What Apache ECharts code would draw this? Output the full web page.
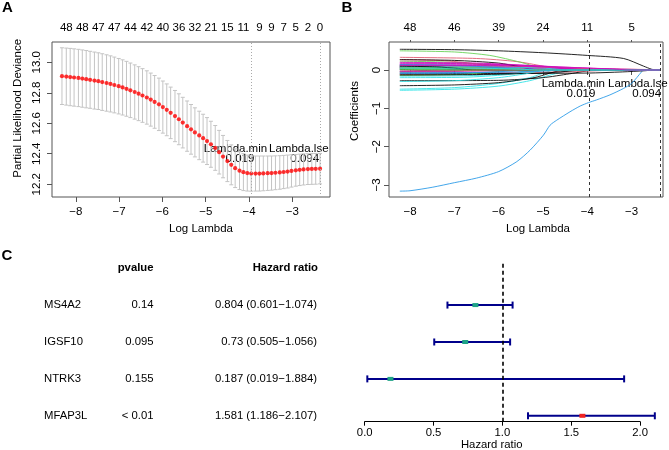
<!DOCTYPE html>
<html>
<head>
<meta charset="utf-8">
<script src="https://cdn.jsdelivr.net/npm/echarts@6/dist/echarts.min.js"></script>
<style>
html, body { margin: 0; padding: 0; background: #fff; }
#chart { width: 669px; height: 450px; }
</style>
</head>
<body>
<div id="chart"></div>
<script>
// ---- panel A: cross-validated partial likelihood deviance ----
var logLambda = [-8.32,-8.22,-8.13,-8.04,-7.94,-7.85,-7.76,-7.67,-7.57,-7.48,-7.39,-7.29,-7.20,-7.11,-7.01,-6.92,
    -6.83,-6.74,-6.64,-6.55,-6.46,-6.36,-6.27,-6.18,-6.08,-5.99,-5.90,-5.81,-5.71,-5.62,-5.53,-5.43,-5.34,-5.25,
    -5.15,-5.06,-4.97,-4.88,-4.78,-4.69,-4.60,-4.50,-4.41,-4.32,-4.22,-4.13,-4.04,-3.95,-3.85,-3.76,-3.67,-3.57,
    -3.48,-3.39,-3.29,-3.20,-3.11,-3.02,-2.92,-2.83,-2.74,-2.64,-2.55,-2.46,-2.36];
var cvMean = [12.909,12.906,12.903,12.900,12.897,12.893,12.889,12.885,12.880,12.876,12.870,12.864,12.858,12.851,
    12.843,12.835,12.826,12.816,12.805,12.794,12.782,12.769,12.755,12.740,12.724,12.706,12.688,12.668,12.647,12.626,
    12.604,12.581,12.560,12.540,12.520,12.502,12.483,12.462,12.438,12.410,12.381,12.352,12.327,12.305,12.289,12.279,
    12.273,12.270,12.270,12.270,12.271,12.272,12.273,12.275,12.277,12.280,12.283,12.287,12.291,12.294,12.297,12.299,
    12.300,12.301,12.302];
var cvUp = [13.095,13.093,13.091,13.088,13.085,13.081,13.077,13.072,13.067,13.062,13.056,13.049,13.042,13.034,
    13.025,13.016,13.006,12.995,12.983,12.971,12.958,12.944,12.929,12.913,12.896,12.877,12.858,12.837,12.815,12.793,
    12.770,12.746,12.723,12.701,12.679,12.659,12.637,12.613,12.585,12.553,12.520,12.487,12.458,12.432,12.413,12.400,
    12.391,12.386,12.385,12.385,12.385,12.385,12.385,12.386,12.387,12.389,12.391,12.393,12.395,12.397,12.399,12.400,
    12.401,12.402,12.402];
var cvLo = [12.723,12.719,12.715,12.712,12.709,12.705,12.701,12.698,12.693,12.690,12.684,12.679,12.674,12.668,
    12.661,12.654,12.646,12.637,12.627,12.617,12.606,12.594,12.581,12.567,12.552,12.535,12.518,12.499,12.479,12.459,
    12.438,12.416,12.397,12.379,12.361,12.345,12.329,12.311,12.291,12.267,12.242,12.217,12.196,12.178,12.165,12.158,
    12.155,12.154,12.155,12.155,12.157,12.159,12.161,12.164,12.167,12.171,12.175,12.181,12.187,12.191,12.195,12.198,
    12.199,12.200,12.202];
var topPosA = [-8.22,-7.85,-7.48,-7.11,-6.74,-6.36,-5.99,-5.62,-5.25,-4.88,-4.50,-4.13,-3.76,-3.48,-3.20,-2.92,-2.64,-2.36];
var topNzA = ['48','48','47','47','44','42','40','36','32','21','15','11','9','9','7','5','2','0'];
var xTicks = [-8, -7, -6, -5, -4, -3];
var yTicksA = [12.2, 12.4, 12.6, 12.8, 13.0];
var lambdaMin = 0.019;
var lambdaLse = 0.094;

// ---- panel B: coefficient paths ----
var topPosB = [-8, -7, -6, -5, -4, -3];
var topNzB = ['48', '46', '39', '24', '11', '5'];
var yTicksB = [-3, -2, -1, 0];
var coefPaths = [
    [[-8.23,0.54],[-7,0.53],[-6,0.50],[-5,0.45],[-4,0.38],[-3.18,0.30],[-2.73,0.10],[-2.55,0.02],[-2.45,0],[-2.36,0]],
    [[-8.23,0.33],[-6.5,0.30],[-5.6,0.22],[-5,0.10],[-4.6,0],[-2.36,0]],
    [[-8.23,0.50],[-7,0.47],[-6.2,0.38],[-5.5,0.20],[-5.1,0.06],[-4.85,0],[-2.36,0]],
    [[-8.23,-3.16],[-8,-3.15],[-7.5,-3.06],[-7,-2.94],[-6.5,-2.82],[-6,-2.65],[-5.59,-2.39],[-5.29,-2.09],[-4.99,-1.70],
     [-4.84,-1.44],[-4.69,-1.31],[-4.39,-1.09],[-4.16,-0.94],[-3.97,-0.85],[-3.79,-0.78],[-3.49,-0.65],[-3.18,-0.48],
     [-3.0,-0.35],[-2.77,-0.04],[-2.74,0],[-2.36,0]],
    [[-8.23,-0.53],[-7,-0.50],[-6,-0.42],[-5.3,-0.28],[-4.8,-0.12],[-4.3,0],[-2.36,0]],
    [[-8.23,0.18],[-6.5,0.16],[-5,0.10],[-4,0.05],[-3.4,0.02],[-3.0,0],[-2.36,0]],
    [[-8.23,-0.28],[-6,-0.27],[-5,-0.20],[-4.4,-0.10],[-3.8,0],[-2.36,0]],
    [[-8.23,0.04],[-6,0.04],[-4,0.03],[-3,0.02],[-2.6,0.01],[-2.36,0]],
    [[-8.23,0.23],[-7,0.20],[-6.2,0.13],[-5.8,0.06],[-5.4,0],[-2.36,0]],
    [[-8.23,0.05],[-7.2,0.04],[-6.6,0.02],[-6.2,0],[-2.36,0]],
    [[-8.23,-0.50],[-7,-0.46],[-6,-0.35],[-5.3,-0.20],[-4.7,0],[-2.36,0]],
    [[-8.23,0.14],[-6.5,0.13],[-5.5,0.10],[-4.9,0.05],[-4.5,0],[-2.36,0]],
    [[-8.23,-0.41],[-7,-0.39],[-6,-0.33],[-5.2,-0.20],[-4.5,0],[-2.36,0]],
    [[-8.23,-0.12],[-6.5,-0.11],[-5.6,-0.07],[-5,0],[-2.36,0]],
    [[-8.23,0.10],[-7,0.09],[-6.1,0.05],[-5.6,0],[-2.36,0]],
    [[-8.23,-0.03],[-7.7,-0.015],[-7.3,0],[-2.36,0]],
    [[-8.23,-0.16],[-6.8,-0.15],[-5.8,-0.10],[-5.2,0],[-2.36,0]],
    [[-8.23,0.08],[-6,0.07],[-4.5,0.05],[-3.5,0.03],[-2.8,0.01],[-2.6,0],[-2.36,0]],
    [[-8.23,-0.10],[-6,-0.09],[-4,-0.08],[-3.2,-0.05],[-2.7,-0.02],[-2.5,0],[-2.36,0]],
    [[-8.23,0.27],[-7.2,0.24],[-6.4,0.14],[-5.8,0],[-2.36,0]],
    [[-8.23,-0.05],[-7.2,-0.04],[-6.8,-0.02],[-6.5,0],[-2.36,0]],
    [[-8.23,0.08],[-6.5,0.07],[-5.7,0.04],[-5.3,0],[-2.36,0]],
    [[-8.23,0.02],[-7.3,0.015],[-6.8,0],[-2.36,0]],
    [[-8.23,0.16],[-6.5,0.15],[-5.2,0.10],[-4.6,0.04],[-4.2,0],[-2.36,0]],
    [[-8.23,0.27],[-7,0.25],[-6,0.18],[-5.5,0.08],[-5.1,0],[-2.36,0]],
    [[-8.23,-0.06],[-6,-0.06],[-4.5,-0.05],[-3.8,-0.02],[-3.3,0],[-2.36,0]],
    [[-8.23,-0.14],[-7,-0.12],[-6.2,-0.06],[-5.7,0],[-2.36,0]],
    [[-8.23,0.12],[-6.5,0.11],[-5.5,0.06],[-4.9,0],[-2.36,0]],
    [[-8.23,-0.20],[-6.8,-0.19],[-5.8,-0.12],[-5,0],[-2.36,0]],
    [[-8.23,0.06],[-6,0.06],[-4.5,0.04],[-3.9,0.015],[-3.6,0],[-2.36,0]],
    [[-8.23,0.015],[-8,0.008],[-7.8,0],[-2.36,0]],
    [[-8.23,0.07],[-7.2,0.06],[-6.7,0.03],[-6.3,0],[-2.36,0]],
    [[-8.23,0.04],[-7,0.035],[-6.3,0.015],[-5.9,0],[-2.36,0]],
    [[-8.23,-0.09],[-6.8,-0.08],[-5.9,-0.04],[-5.4,0],[-2.36,0]],
    [[-8.23,0.09],[-6,0.08],[-5,0.05],[-4.4,0],[-2.36,0]],
    [[-8.23,-0.04],[-7,-0.035],[-6,-0.015],[-5.6,0],[-2.36,0]],
    [[-8.23,-0.13],[-6.5,-0.12],[-5,-0.08],[-4.5,-0.04],[-4.1,0],[-2.36,0]],
    [[-8.23,0.11],[-6,0.10],[-4.5,0.06],[-3.8,0.02],[-3.4,0],[-2.36,0]],
    [[-8.23,0.07],[-6.5,0.06],[-5.6,0.03],[-5.2,0],[-2.36,0]],
    [[-8.23,0.14],[-7,0.12],[-6,0.06],[-5.5,0],[-2.36,0]],
    [[-8.23,-0.30],[-7,-0.28],[-6,-0.20],[-5.4,-0.10],[-4.9,0],[-2.36,0]],
    [[-8.23,0.20],[-6.5,0.18],[-5,0.10],[-4.4,0.04],[-4.05,0],[-2.36,0]],
    [[-8.23,0.10],[-7.4,0.08],[-6.9,0.04],[-6.6,0],[-2.36,0]],
    [[-8.23,-0.02],[-7,-0.018],[-6.4,-0.008],[-6.1,0],[-2.36,0]],
    [[-8.23,0.012],[-7.3,0.008],[-6.9,0],[-2.36,0]],
    [[-8.23,-0.07],[-6.5,-0.065],[-5.2,-0.04],[-4.6,0],[-2.36,0]],
    [[-8.23,0.05],[-6.5,0.045],[-5.5,0.02],[-5.1,0],[-2.36,0]],
    [[-8.23,0.12],[-6,0.11],[-4.5,0.07],[-3.5,0.03],[-3.2,0.01],[-3.1,0],[-2.36,0]]
];

// ---- panel C: univariate cox ----
var genes = ['MS4A2', 'IGSF10', 'NTRK3', 'MFAP3L'];
var pvalueText = ['0.14', '0.095', '0.155', '< 0.01'];
var hr = [0.804, 0.73, 0.187, 1.581];
var hrLow = [0.601, 0.505, 0.019, 1.186];
var hrHigh = [1.074, 1.056, 1.884, 2.107];
var hrTicks = [0, 0.5, 1, 1.5, 2];

var FONT = "'Liberation Sans', Arial, Helvetica, sans-serif";
var palette = ['#000000', '#DF536B', '#61D04F', '#2297E6', '#28E2E5', '#CD0BBC'];
var boxColor = '#555';

function minusFmt(v) {
    return v < 0 ? '\u2212' + Math.abs(v) : String(v);
}
function nearest(arr, v) {
    var best = 0;
    for (var i = 1; i < arr.length; i++) {
        if (Math.abs(arr[i] - v) < Math.abs(arr[best] - v)) best = i;
    }
    return best;
}
var labelStyle = { color: '#000', fontSize: 11.5, fontFamily: FONT };

function bottomAxis(grid, min, max) {
    return {
        gridIndex: grid, type: 'value', min: min, max: max,
        axisLine: { show: false }, splitLine: { show: false },
        axisTick: { show: true, length: 5, customValues: xTicks, lineStyle: { color: boxColor } },
        axisLabel: Object.assign({ customValues: xTicks, formatter: minusFmt, margin: 9 }, labelStyle)
    };
}
function topAxis(grid, min, max, pos, labels, tick) {
    return {
        gridIndex: grid, type: 'value', position: 'top', min: min, max: max,
        axisLine: { show: false }, splitLine: { show: false },
        axisTick: { show: tick, length: 2, customValues: pos, lineStyle: { color: boxColor } },
        axisLabel: Object.assign({
            customValues: pos, margin: 8,
            formatter: function (v) { return labels[nearest(pos, v)]; }
        }, labelStyle)
    };
}

var series = [];

// A: error bars
series.push({
    type: 'custom', xAxisIndex: 0, yAxisIndex: 0, silent: true,
    data: logLambda.map(function (x, i) { return [x, cvLo[i], cvUp[i]]; }),
    encode: { x: 0, y: [1, 2] },
    renderItem: function (params, api) {
        var x = api.value(0);
        var lo = api.coord([x, api.value(1)]);
        var hi = api.coord([x, api.value(2)]);
        var st = { stroke: '#c4c4c4', lineWidth: 1 };
        return {
            type: 'group', children: [
                { type: 'line', shape: { x1: lo[0], y1: lo[1], x2: hi[0], y2: hi[1] }, style: st },
                { type: 'line', shape: { x1: lo[0] - 2, y1: lo[1], x2: lo[0] + 2, y2: lo[1] }, style: st },
                { type: 'line', shape: { x1: hi[0] - 2, y1: hi[1], x2: hi[0] + 2, y2: hi[1] }, style: st }
            ]
        };
    }
});
// A: mean points + lambda lines
series.push({
    type: 'scatter', xAxisIndex: 0, yAxisIndex: 0, silent: true,
    symbolSize: 4.2, itemStyle: { color: '#ff0000' },
    data: logLambda.map(function (x, i) { return [x, cvMean[i]]; }),
    markLine: {
        silent: true, symbol: 'none', label: { show: false },
        lineStyle: { type: [1, 2], color: '#aaa', width: 1 },
        data: [{ xAxis: Math.log(lambdaMin) }, { xAxis: Math.log(lambdaLse) }]
    }
});

// B: coefficient paths
coefPaths.forEach(function (path, i) {
    var s = {
        type: 'line', xAxisIndex: 2, yAxisIndex: 1, silent: true,
        data: path, showSymbol: false, smooth: 0.25,
        lineStyle: { width: 1, color: palette[i % 6], opacity: 0.85 }, itemStyle: { color: palette[i % 6] },
        z: 2
    };
    if (i === 0) {
        s.markLine = {
            silent: true, symbol: 'none', label: { show: false },
            lineStyle: { type: [3, 3], color: '#333', width: 1, opacity: 1 },
            data: [{ xAxis: Math.log(lambdaMin) }, { xAxis: Math.log(lambdaLse) }]
        };
    }
    series.push(s);
});

// C: forest plot
series.push({
    type: 'custom', xAxisIndex: 4, yAxisIndex: 2, silent: true,
    data: genes.map(function (g, i) { return [genes.length - i, hrLow[i], hrHigh[i], hr[i]]; }),
    encode: { x: [1, 2, 3], y: 0 },
    renderItem: function (params, api) {
        var row = api.value(0), lo = api.value(1), hi = api.value(2), est = api.value(3);
        var a = api.coord([lo, row]), b = api.coord([hi, row]), c = api.coord([est, row]);
        var col = (lo > 1 || hi < 1) ? '#ee2222' : '#1fa386';
        var st = { stroke: '#00008b', lineWidth: 2 };
        return {
            type: 'group', children: [
                { type: 'line', shape: { x1: a[0], y1: a[1], x2: b[0], y2: b[1] }, style: st },
                { type: 'line', shape: { x1: a[0], y1: a[1] - 3.5, x2: a[0], y2: a[1] + 3.5 }, style: st },
                { type: 'line', shape: { x1: b[0], y1: b[1] - 3.5, x2: b[0], y2: b[1] + 3.5 }, style: st },
                { type: 'rect', shape: { x: c[0] - 3, y: c[1] - 2, width: 6, height: 4 }, style: { fill: col } }
            ]
        };
    },
    markLine: {
        silent: true, symbol: 'none', label: { show: false },
        lineStyle: { type: [4, 3], color: '#000', width: 1.6 },
        data: [{ xAxis: 1 }]
    }
});
// C: table text
series.push({
    type: 'custom', xAxisIndex: 4, yAxisIndex: 2, silent: true,
    data: genes.map(function (g, i) { return [1, genes.length - i, i]; }),
    encode: { x: 0, y: 1 },
    renderItem: function (params, api) {
        var i = api.value(2);
        var y = api.coord([1, api.value(1)])[1];
        var font = '11.3px ' + FONT;
        function t(x, text, align) {
            return { type: 'text', x: x, y: y, style: { text: text, fill: '#000', font: font, align: align, verticalAlign: 'middle' } };
        }
        return {
            type: 'group', children: [
                t(44, genes[i], 'left'),
                t(153.5, pvalueText[i], 'right'),
                t(317, hr[i] + ' (' + hrLow[i] + '\u2212' + hrHigh[i] + ')', 'right')
            ]
        };
    }
});

function txt(x, y, text, opts) {
    opts = opts || {};
    return {
        type: 'text', x: x, y: y, rotation: opts.rot || 0, silent: true,
        style: {
            text: text, fill: '#000', align: opts.align || 'center', verticalAlign: 'middle',
            font: (opts.bold ? 'bold ' : '') + (opts.size || 11.5) + 'px ' + FONT
        }
    };
}

var option = {
    animation: false,
    backgroundColor: '#fff',
    grid: [
        { left: 52, top: 42, width: 278, height: 155, show: true, borderColor: boxColor, borderWidth: 1, backgroundColor: 'transparent', outerBoundsMode: 'none' },
        { left: 389, top: 42, width: 274, height: 155, show: true, borderColor: boxColor, borderWidth: 1, backgroundColor: 'transparent', outerBoundsMode: 'none' },
        { left: 364.7, top: 263, width: 275.4, height: 158.7, outerBoundsMode: 'none' }
    ],
    xAxis: [
        bottomAxis(0, -8.55, -2.13),
        topAxis(0, -8.55, -2.13, topPosA, topNzA, false),
        bottomAxis(1, -8.474, -2.292),
        topAxis(1, -8.474, -2.292, topPosB, topNzB, true),
        {
            gridIndex: 2, type: 'value', min: 0, max: 2,
            axisLine: { show: true, onZero: false, lineStyle: { color: '#000', width: 1 } },
            splitLine: { show: false },
            axisTick: { show: true, length: 4, customValues: hrTicks, lineStyle: { color: '#000' } },
            axisLabel: Object.assign({ customValues: hrTicks, margin: 6, formatter: function (v) { return v.toFixed(1); } }, labelStyle, { fontSize: 11.3 })
        }
    ],
    yAxis: [
        {
            gridIndex: 0, type: 'value', min: 12.116, max: 13.133,
            axisLine: { show: false }, splitLine: { show: false },
            axisTick: { show: true, length: 5, customValues: yTicksA, lineStyle: { color: boxColor } },
            axisLabel: Object.assign({ customValues: yTicksA, rotate: 90, margin: 9.5, formatter: function (v) { return v.toFixed(1); } }, labelStyle)
        },
        {
            gridIndex: 1, type: 'value', min: -3.313, max: 0.73,
            axisLine: { show: false }, splitLine: { show: false },
            axisTick: { show: true, length: 5, customValues: yTicksB, lineStyle: { color: boxColor } },
            axisLabel: Object.assign({ customValues: yTicksB, rotate: 90, margin: 6.5, formatter: minusFmt }, labelStyle)
        },
        { gridIndex: 2, type: 'value', min: 0.84, max: 5.14, show: false }
    ],
    graphic: [
        txt(2, 8, 'A', { bold: true, size: 15, align: 'left' }),
        txt(341.5, 8, 'B', { bold: true, size: 15, align: 'left' }),
        txt(1.5, 256, 'C', { bold: true, size: 15, align: 'left' }),
        txt(18.3, 108.3, 'Partial Likelihood Deviance', { rot: Math.PI / 2 }),
        txt(355, 111, 'Coefficients', { rot: Math.PI / 2 }),
        txt(201, 229, 'Log Lambda'),
        txt(538, 229, 'Log Lambda'),
        txt(235.5, 149, 'Lambda.min'),
        txt(298.8, 149, 'Lambda.lse'),
        txt(240, 158.5, '0.019'),
        txt(304.7, 158.5, '0.094'),
        txt(573.3, 84, 'Lambda.min'),
        txt(637.8, 84, 'Lambda.lse'),
        txt(581, 94, '0.019'),
        txt(646.7, 94, '0.094'),
        txt(153.5, 268, 'pvalue', { bold: true, size: 11.3, align: 'right' }),
        txt(318, 268, 'Hazard ratio', { bold: true, size: 11.3, align: 'right' }),
        txt(491.7, 445, 'Hazard ratio', { size: 11.3 })
    ],
    series: series
};

var chart = echarts.init(document.getElementById('chart'), null, { renderer: 'canvas' });
chart.setOption(option);
</script>
</body>
</html>
